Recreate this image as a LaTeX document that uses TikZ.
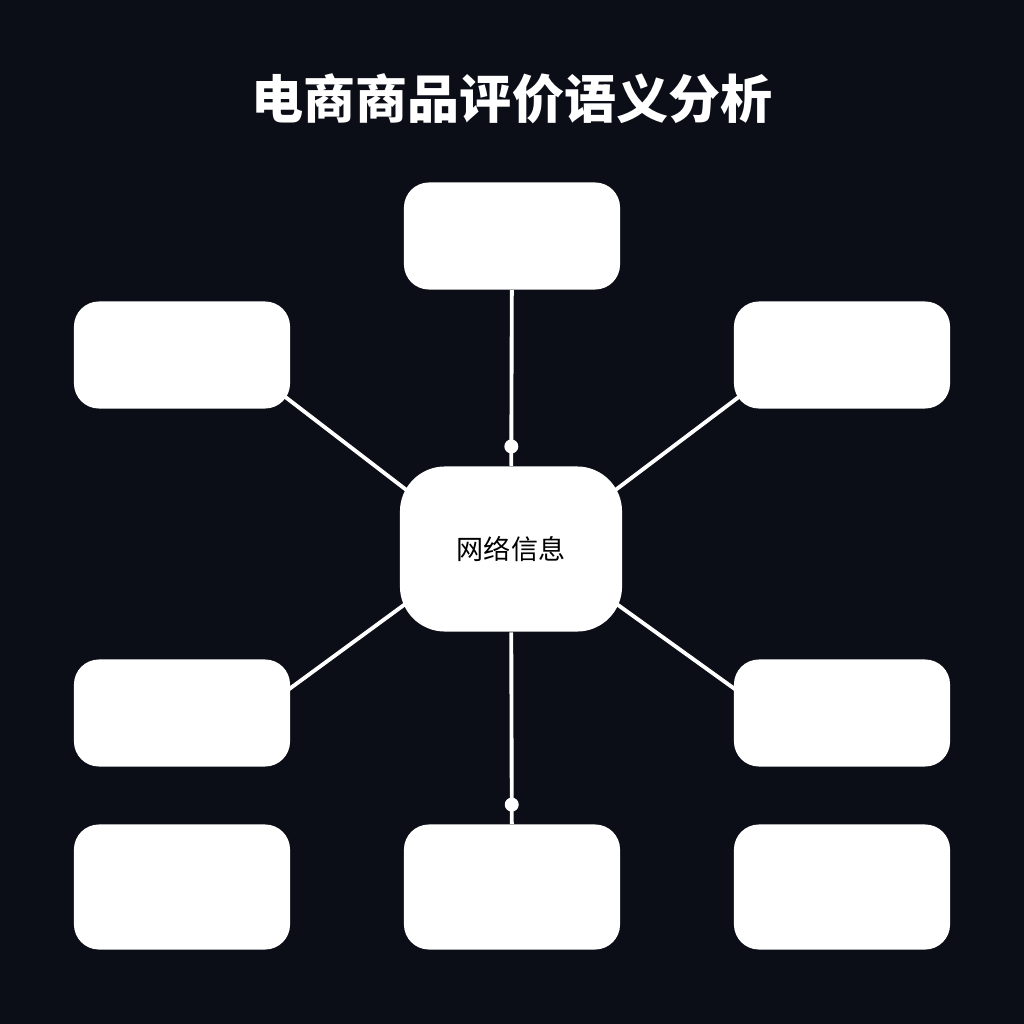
\documentclass[tikz,border=0pt]{standalone}
\usepackage{fontspec}
\newfontfamily\cjk{Noto Sans CJK SC}
\usetikzlibrary{backgrounds}
\definecolor{bgdark}{HTML}{0B0D17}
\begin{document}
\begin{tikzpicture}[x=0.01cm,y=-0.01cm,
  box/.style={fill=white,rounded corners=0.25cm,minimum width=2.16cm,minimum height=1.07cm,inner sep=0pt},
  tallbox/.style={box,minimum height=1.25cm},
  hub/.style={fill=white,rounded corners=0.45cm,minimum width=2.22cm,minimum height=1.65cm,inner sep=0pt,font=\cjk\fontsize{7.7}{9}\selectfont},
  link/.style={white,line width=1.1pt},
  spoke/.style={link,shorten <=-0.12cm,shorten >=-0.12cm},
  joint/.style={circle,fill=white,inner sep=0pt,minimum size=0.14cm}]
\node[font=\cjk\bfseries\fontsize{14.8}{17}\selectfont,white] (title) at (512,99) {电商商品评价语义分析};
\node[hub] (info) at (511,549) {网络信息};
\node[box] (up) at (512,236) {};
\node[box] (lu) at (182,355) {};
\node[box] (ru) at (842,355) {};
\node[box] (ll) at (182,713) {};
\node[box] (rl) at (842,713) {};
\node[tallbox] (bl) at (182,887) {};
\node[tallbox] (bc) at (512,887) {};
\node[tallbox] (br) at (842,887) {};
\begin{scope}[on background layer]
\fill[bgdark] (0,0) rectangle (1024,1024);
\draw[link] (up) -- (info) node[joint,pos=0.89]{};
\draw[link] (info) -- (bc) node[joint,pos=0.9]{};
\draw[spoke] (lu.-23) -- (info.150);
\draw[spoke] (ru.-157) -- (info.30);
\draw[spoke] (ll.13) -- (info.-152);
\draw[spoke] (rl.167) -- (info.-28);
\end{scope}
\end{tikzpicture}
\end{document}
